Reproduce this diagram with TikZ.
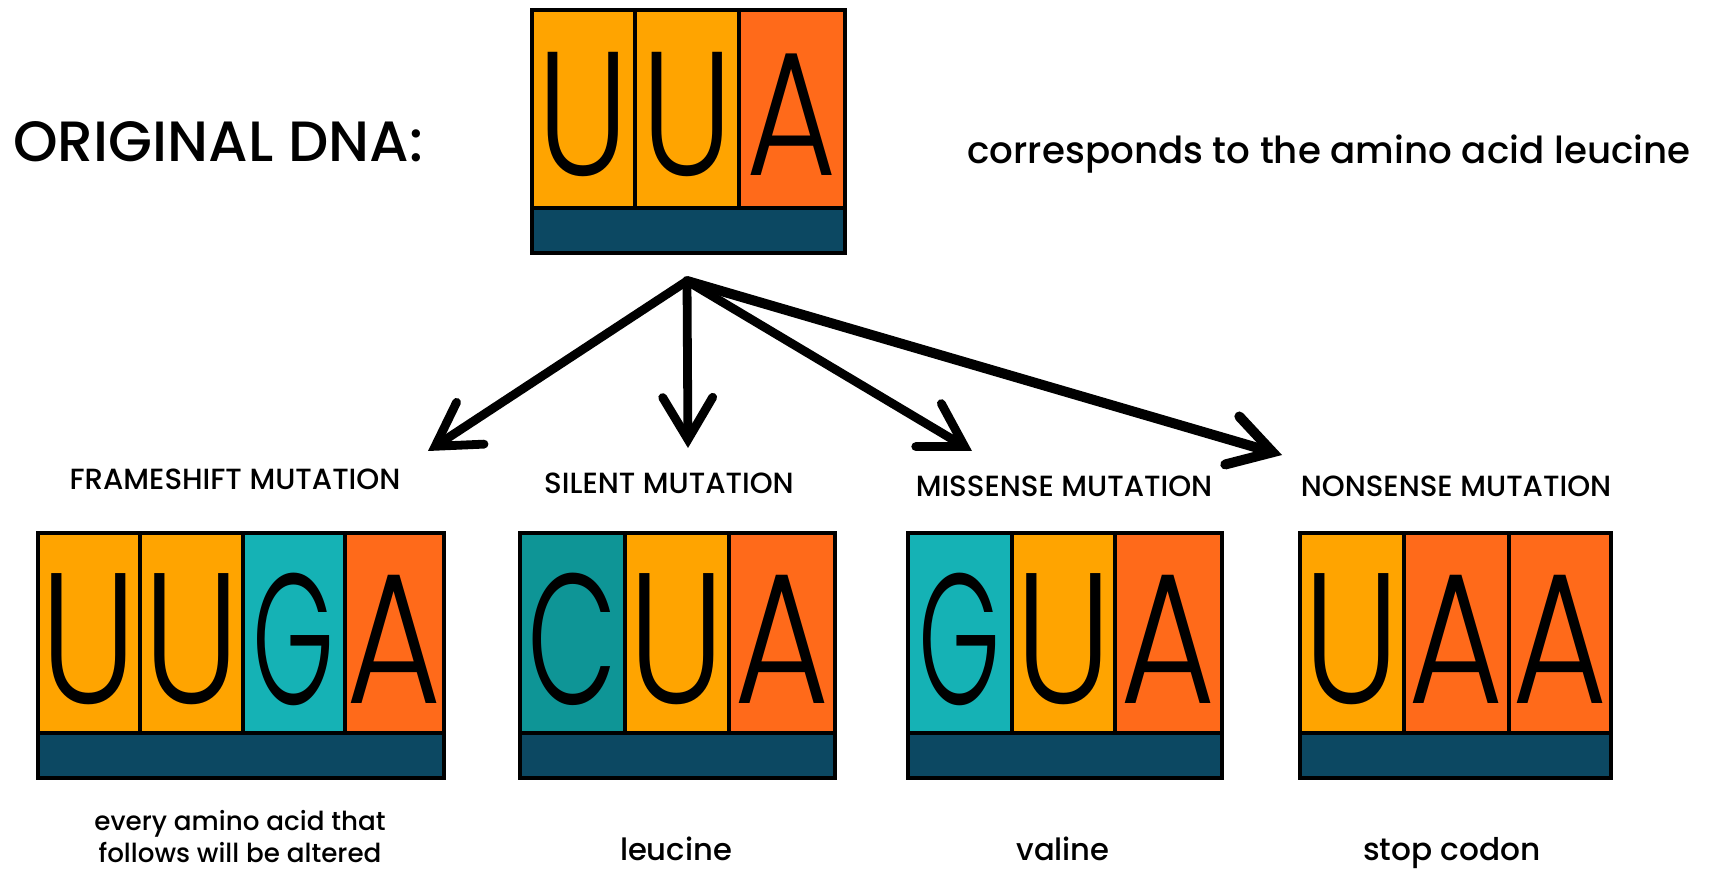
\documentclass[tikz,border=0pt]{standalone}
\usepackage{fontspec}
\IfFontExistsTF{Poppins Medium}{\setmainfont{Poppins Medium}}{\setmainfont{Poppins}[FakeBold=1.5,AutoFakeBold=1.5]}
\IfFontExistsTF{Poppins Medium}{\newcommand\medfont{}}{\newcommand\medfont{\bfseries}}
\IfFontExistsTF{Poppins Light}
  {\newfontfamily\letterfont{Poppins Light}\newcommand\topsize{67.8}\newcommand\botsize{71.5}\newcommand\lxs{1.02}}
  {\IfFontExistsTF{Fira Sans Light}
    {\newfontfamily\letterfont{Fira Sans Light}\newcommand\topsize{68.7}\newcommand\botsize{72.5}\newcommand\lxs{1.1}}
    {\newfontfamily\letterfont{Liberation Sans}\newcommand\topsize{66}\newcommand\botsize{70}\newcommand\lxs{0.95}}}
\usetikzlibrary{arrows.meta}
\definecolor{cU}{HTML}{FFA400}
\definecolor{cA}{HTML}{FF6A1A}
\definecolor{cG}{HTML}{15B2B5}
\definecolor{cC}{HTML}{0E9596}
\definecolor{cband}{HTML}{0C4862}
\newcommand\gletter{\scalebox{0.72}[1]{G}}
\newcommand\cletter{\scalebox{0.8}[1]{C}}
\newcommand\mycell[8]{%
  \node[cellsty, fill=#6, minimum width={(#3-#2)*0.5pt}, minimum height={(#5-#4)*0.5pt}] (#1) at ({(#2+#3)/2},{(#4+#5)/2}) {};
  \node[inner sep=0pt, font=\letterfont\fontsize{#8}{#8}\selectfont] (#1l) at ({(#2+#3)/2},{(#4+#5)/2+6}) {\scalebox{\lxs}[1.3]{#7}};
}
\newcommand\myband[5]{%
  \node[cellsty, fill=cband, minimum width={(#3-#2)*0.5pt}, minimum height={(#5-#4)*0.5pt}] (#1) at ({(#2+#3)/2},{(#4+#5)/2}) {};
}
\begin{document}
\begin{tikzpicture}[x=0.5pt,y=-0.5pt,
  cellsty/.style={draw=black, line width=2pt, inner sep=0pt, outer sep=0pt},
  arr/.style={line width=#1, line cap=round, line join=round, -{Straight Barb[length=21pt, width=25pt, line width=#1, line cap=round]}},
  arr/.default=4.4pt,
  txt/.style={inner sep=0pt, font=\medfont\fontsize{#1}{#1}\selectfont},
  lab/.style={inner sep=0pt, font=\medfont\fontsize{14.6}{14.6}\selectfont}]
\useasboundingbox[fill=white] (0,0) rectangle (1709,871);
% top box
\mycell{t1}{532}{635}{10}{208}{cU}{U}{\topsize}
\mycell{t2}{635}{739}{10}{208}{cU}{U}{\topsize}
\mycell{t3}{739}{845}{10}{208}{cA}{A}{\topsize}
\myband{tb}{532}{845}{208}{253}
% frameshift
\mycell{f1}{38}{140}{533}{733}{cU}{U}{\botsize}
\mycell{f2}{140}{243}{533}{733}{cU}{U}{\botsize}
\mycell{f3}{243}{345}{533}{733}{cG}{\gletter}{\botsize}
\mycell{f4}{345}{444}{533}{733}{cA}{A}{\botsize}
\myband{fb}{38}{444}{733}{778}
% silent
\mycell{s1}{520}{625}{533}{733}{cC}{\cletter}{\botsize}
\mycell{s2}{625}{729}{533}{733}{cU}{U}{\botsize}
\mycell{s3}{729}{835}{533}{733}{cA}{A}{\botsize}
\myband{sb}{520}{835}{733}{778}
% missense
\mycell{m1}{908}{1012}{533}{733}{cG}{\gletter}{\botsize}
\mycell{m2}{1012}{1115}{533}{733}{cU}{U}{\botsize}
\mycell{m3}{1115}{1222}{533}{733}{cA}{A}{\botsize}
\myband{mb}{908}{1222}{733}{778}
% nonsense
\mycell{n1}{1300}{1404}{533}{733}{cU}{U}{\botsize}
\mycell{n2}{1404}{1509}{533}{733}{cA}{A}{\botsize}
\mycell{n3}{1509}{1611}{533}{733}{cA}{A}{\botsize}
\myband{nb}{1300}{1611}{733}{778}
% texts
\node[txt=28.4, anchor=base west] (orig) at (13,162) {ORIGINAL DNA:};
\node[txt=18.6, anchor=base] (corr) at (1329,164) {corresponds to the amino acid leucine};
\node[lab, anchor=base] (lf) at (235,490) {FRAMESHIFT MUTATION};
\node[lab, anchor=base] (ls) at (669,494) {SILENT MUTATION};
\node[lab, anchor=base] (lm) at (1064,497) {MISSENSE MUTATION};
\node[lab, anchor=base] (ln) at (1456,497) {NONSENSE MUTATION};
\node[inner sep=0pt, font=\medfont\fontsize{13.1}{15.8}\selectfont, align=center, anchor=base] (bf) at (240,862) {every amino acid that\\follows will be altered};
\node[txt=15.3, anchor=base] (bs) at (676,860) {leucine};
\node[txt=15.3, anchor=base] (bm) at (1063,860) {valine};
\node[txt=15.6, anchor=base] (bn) at (1452,860) {stop codon};
% arrows
\coordinate (o) at (687,281);
\coordinate (a1) at (428,451);
\coordinate (a2) at (688,448);
\coordinate (a3) at (972,451);
\coordinate (a4) at (1282,455);
\draw[arr] (o) -- (a1);
\draw[arr] (o) -- (a2);
\draw[arr] (o) -- (a3);
\draw[arr=5pt] (o) -- (a4);
\end{tikzpicture}
\end{document}
